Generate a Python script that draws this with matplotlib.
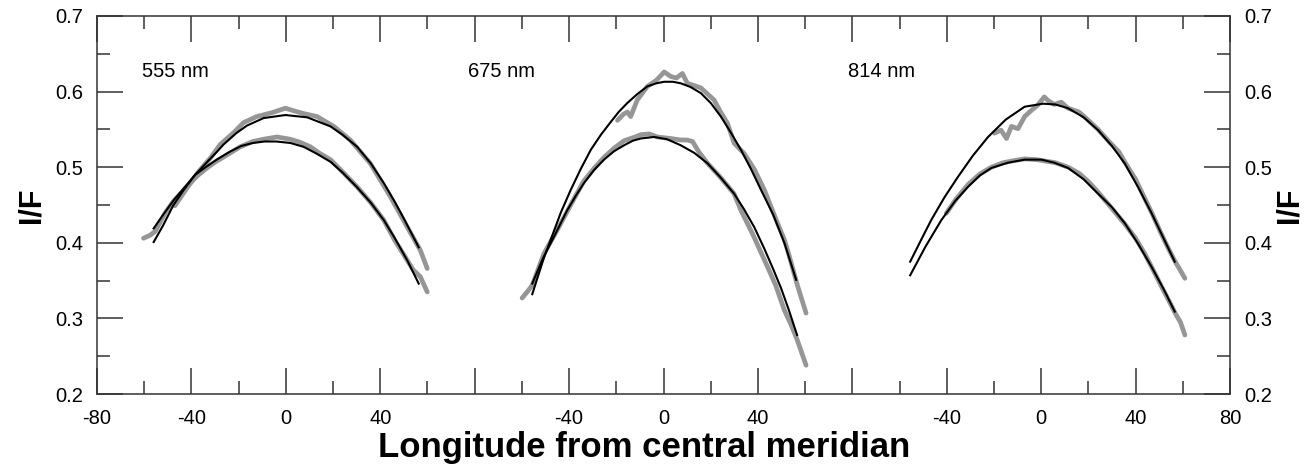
import numpy as np
import matplotlib
matplotlib.use("Agg")
import matplotlib.pyplot as plt
from matplotlib.ticker import MultipleLocator, FixedLocator, FixedFormatter

plt.rcParams['font.family'] = ['Liberation Sans', 'DejaVu Sans']

# panel offsets on the shared longitude axis
panel_names = ['555 nm', '675 nm', '814 nm']
panel_offset = [0, 160, 320]
label_lon = [-61, -83, -82]
label_if = [0.626, 0.626, 0.626]

x_ticks = [-80, -40, 0, 40, 80, 120, 160, 200, 240, 280, 320, 360, 400]
x_tick_labels = ['-80', '-40', '0', '40', '', '-40', '0', '40', '', '-40', '0', '40', '80']

# ---- 555 nm ----
fitA1_lon = [-56, -52, -47.6, -43, -38.4, -33, -29.3, -26.4, -21, -16.5, -9.4, -0.2, 9, 18.9, 24, 30.2, 36, 41.5, 46, 50, 56.3]
fitA1_if = [0.401, 0.423, 0.450, 0.471, 0.490, 0.508, 0.520, 0.530, 0.545, 0.555, 0.565, 0.569, 0.566, 0.554, 0.543, 0.527, 0.505, 0.479, 0.455, 0.432, 0.394]
fitB1_lon = [-56, -52, -47.6, -43, -38.4, -34, -29.3, -24, -19, -14, -9, -4, 2, 7.5, 13, 19, 24, 30, 36, 41.5, 46, 51.4, 56.3]
fitB1_if = [0.419, 0.437, 0.456, 0.473, 0.490, 0.500, 0.510, 0.520, 0.528, 0.532, 0.534, 0.534, 0.532, 0.527, 0.518, 0.507, 0.493, 0.474, 0.453, 0.430, 0.407, 0.377, 0.346]
datA1_lon = [-47, -42, -37, -32, -27.8, -22, -17.9, -12.3, -6, -0.2, 4, 7.5, 13.2, 20.3, 27.3, 35.8, 44.3, 51.4, 57, 59.9]
datA1_if = [0.449, 0.472, 0.494, 0.512, 0.530, 0.546, 0.559, 0.567, 0.572, 0.578, 0.574, 0.571, 0.567, 0.554, 0.536, 0.505, 0.461, 0.421, 0.390, 0.366]
datB1_lon = [-60.3, -57.5, -55.4, -51, -47.6, -42, -37.7, -33, -29.3, -24, -19.3, -14, -9.4, -3.8, 1.9, 6, 10.4, 14, 18.9, 24, 30.2, 36, 41.5, 46, 51.4, 54, 57, 59.9]
datB1_if = [0.406, 0.410, 0.415, 0.440, 0.455, 0.474, 0.488, 0.500, 0.508, 0.518, 0.527, 0.534, 0.537, 0.540, 0.537, 0.533, 0.527, 0.519, 0.510, 0.494, 0.474, 0.453, 0.430, 0.404, 0.377, 0.364, 0.355, 0.335]

# ---- 675 nm ----
fitA2_lon = [-55.6, -51, -47.8, -43.5, -39.3, -35, -30.8, -26.5, -22.3, -19, -15.3, -11, -6.8, -3, 0.3, 4, 7.3, 11.5, 15.8, 20, 24.3, 28.5, 32.8, 37, 41.3, 46.5, 51.2, 56.2]
fitA2_if = [0.332, 0.377, 0.404, 0.440, 0.470, 0.498, 0.523, 0.543, 0.560, 0.573, 0.585, 0.597, 0.607, 0.611, 0.613, 0.613, 0.611, 0.606, 0.598, 0.585, 0.567, 0.546, 0.523, 0.498, 0.470, 0.437, 0.400, 0.351]
fitB2_lon = [-55.6, -51, -46.4, -40.8, -37, -33.7, -29.5, -25.2, -21, -16.7, -13, -9.6, -4, 1.5, 7.3, 13, 18.7, 24, 29.9, 34, 38.4, 42.6, 46.5, 49.8, 53, 56.6]
fitB2_if = [0.346, 0.380, 0.408, 0.443, 0.463, 0.479, 0.496, 0.510, 0.521, 0.529, 0.535, 0.538, 0.540, 0.537, 0.529, 0.519, 0.505, 0.487, 0.465, 0.445, 0.421, 0.393, 0.365, 0.340, 0.312, 0.278]
datA2_lon = [-19.5, -17, -15.3, -13.9, -11.1, -6.8, -3, 0.3, 3.1, 5.5, 8.0, 10.1, 15.8, 21.4, 24, 27.1, 29.9, 34.2, 38.5, 42.7, 48.3, 51.2, 52.6, 56.9, 60.4]
datA2_if = [0.562, 0.570, 0.573, 0.567, 0.589, 0.607, 0.615, 0.626, 0.620, 0.618, 0.624, 0.611, 0.605, 0.589, 0.574, 0.558, 0.532, 0.518, 0.497, 0.470, 0.426, 0.404, 0.390, 0.342, 0.307]
datB2_lon = [-59.9, -57.5, -55.6, -50.6, -45, -39, -33.7, -29, -25.2, -21, -16.7, -12, -9.6, -6, -2.6, 3, 7.3, 10, 12.3, 15, 18.7, 24, 29.9, 32.8, 38, 44.1, 47.5, 51.2, 54, 56.6, 60.4]
datB2_if = [0.327, 0.336, 0.344, 0.386, 0.417, 0.452, 0.482, 0.500, 0.513, 0.525, 0.535, 0.540, 0.543, 0.544, 0.540, 0.538, 0.536, 0.536, 0.534, 0.520, 0.505, 0.487, 0.465, 0.443, 0.410, 0.368, 0.344, 0.311, 0.292, 0.272, 0.238]

# ---- 814 nm ----
fitA3_lon = [-55.5, -51, -46.6, -41, -35.3, -29, -22.5, -15, -7.0, 0.8, 6, 11.4, 18, 24.1, 30, 35.4, 41, 46.8, 52, 56.6]
fitA3_if = [0.375, 0.403, 0.430, 0.460, 0.487, 0.515, 0.540, 0.563, 0.580, 0.584, 0.583, 0.578, 0.566, 0.549, 0.528, 0.505, 0.474, 0.439, 0.405, 0.375]
fitB3_lon = [-55.5, -49, -42.3, -36.5, -31.0, -26, -21.1, -14, -7.0, 0.1, 5.5, 11.4, 18, 24.1, 30, 35.4, 41, 46.8, 52, 56.6]
fitB3_if = [0.357, 0.395, 0.430, 0.455, 0.474, 0.489, 0.499, 0.506, 0.510, 0.510, 0.506, 0.499, 0.484, 0.465, 0.447, 0.426, 0.399, 0.368, 0.338, 0.309]
datA3_lon = [-19.8, -17, -14.7, -12.6, -9.8, -7.0, -4.2, -1.5, 1.3, 3, 5.5, 8.5, 11.4, 16, 20, 24.1, 29, 33, 35.4, 40, 44, 46.8, 50, 53, 56.6, 58.5, 60.9]
datA3_if = [0.545, 0.549, 0.538, 0.554, 0.551, 0.567, 0.575, 0.582, 0.593, 0.588, 0.583, 0.586, 0.578, 0.573, 0.562, 0.550, 0.533, 0.520, 0.507, 0.484, 0.458, 0.440, 0.418, 0.398, 0.376, 0.366, 0.353]
datB3_lon = [-40.2, -36, -31, -26, -21.1, -16, -11, -7.0, -2, 2, 6, 11.4, 16, 20, 24.1, 29, 33, 35.4, 40, 44, 46.8, 51, 55, 56.6, 59, 60.9]
datB3_if = [0.439, 0.458, 0.477, 0.491, 0.500, 0.506, 0.509, 0.511, 0.510, 0.508, 0.506, 0.500, 0.492, 0.481, 0.467, 0.449, 0.434, 0.425, 0.406, 0.385, 0.368, 0.342, 0.318, 0.308, 0.295, 0.278]

data_sets = [
    (datA1_lon, datA1_if, datB1_lon, datB1_if, fitA1_lon, fitA1_if, fitB1_lon, fitB1_if),
    (datA2_lon, datA2_if, datB2_lon, datB2_if, fitA2_lon, fitA2_if, fitB2_lon, fitB2_if),
    (datA3_lon, datA3_if, datB3_lon, datB3_if, fitA3_lon, fitA3_if, fitB3_lon, fitB3_if),
]

fig = plt.figure(figsize=(13.1, 4.68), dpi=100)
ax = fig.add_axes([97 / 1310, 74 / 468, 1133 / 1310, 378 / 468])

gray = '#969696'
for i, ds in enumerate(data_sets):
    off = panel_offset[i]
    dAx, dAy, dBx, dBy, fAx, fAy, fBx, fBy = ds
    ax.plot(np.array(dAx) + off, dAy, color=gray, lw=3.4, solid_capstyle='round', solid_joinstyle='round', zorder=2)
    ax.plot(np.array(dBx) + off, dBy, color=gray, lw=3.4, solid_capstyle='round', solid_joinstyle='round', zorder=2)
    ax.plot(np.array(fAx) + off, fAy, color='black', lw=1.5, zorder=3)
    ax.plot(np.array(fBx) + off, fBy, color='black', lw=1.5, zorder=3)
    ax.text(label_lon[i] + off, label_if[i], panel_names[i], fontsize=14.5, va='center', ha='left')

ax.set_xlim(-80, 400)
ax.set_ylim(0.2, 0.7)

ax.xaxis.set_major_locator(FixedLocator(x_ticks))
ax.xaxis.set_major_formatter(FixedFormatter(x_tick_labels))
ax.xaxis.set_minor_locator(MultipleLocator(20))
ax.yaxis.set_major_locator(MultipleLocator(0.1))
ax.yaxis.set_minor_locator(MultipleLocator(0.05))
ax.yaxis.set_major_formatter(matplotlib.ticker.FormatStrFormatter('%.1f'))

spine_col = '#333333'
for s in ax.spines.values():
    s.set_color(spine_col)
    s.set_linewidth(1.1)
ax.tick_params(which='both', direction='in', top=True, right=True, color=spine_col, width=1.1)
ax.tick_params(which='major', length=18.5)
ax.tick_params(which='minor', length=9.5)
ax.tick_params(axis='x', which='major', labelsize=14.5, pad=11)
ax.tick_params(axis='y', which='major', labelsize=14.5, pad=10, labelright=True)

fig.text(31 / 1310, 0.562, 'I/F', rotation=90, fontsize=22, fontweight='bold', ha='center', va='center')
fig.text(1290 / 1310, 0.562, 'I/F', rotation=90, fontsize=22, fontweight='bold', ha='center', va='center')
fig.text(644 / 1310, 20 / 468, 'Longitude from central meridian', fontsize=25, fontweight='bold',
         ha='center', va='center')

fig.savefig('out.png', dpi=100)
